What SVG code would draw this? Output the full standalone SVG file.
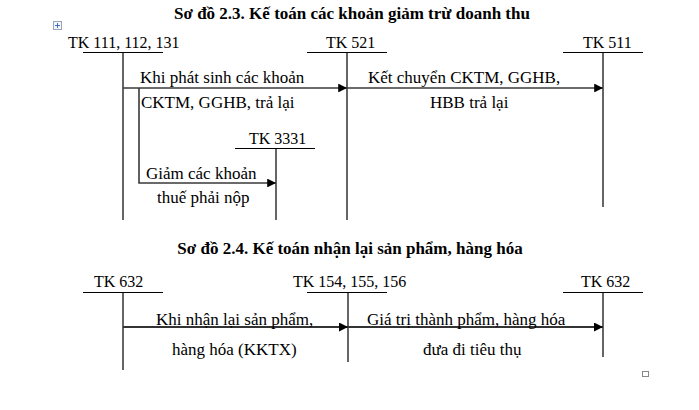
<svg xmlns="http://www.w3.org/2000/svg" width="699" height="410" viewBox="0 0 699 410">
<defs>
<style>
text{font-family:"Liberation Serif","Times New Roman",serif;fill:#000}
.title{font-size:17px;font-weight:bold}
.tk{font-size:16px}
.lb{font-size:17px}
.acc{stroke:#000;stroke-width:1.2;fill:none}
.arr{stroke:#3a3a3a;stroke-width:1.6;fill:none;marker-end:url(#ah)}
.arr2{stroke:#333;stroke-width:2;fill:none;marker-end:url(#ah2)}
</style>
<marker id="ah" viewBox="0 0 10 10" refX="10" refY="5" markerWidth="5.5" markerHeight="5.5" markerUnits="strokeWidth" orient="auto">
<path d="M0,0 L10,5 L0,10 z" fill="#000"/>
</marker>
<marker id="ah2" viewBox="0 0 10 10" refX="10" refY="5" markerWidth="4.5" markerHeight="4.5" markerUnits="strokeWidth" orient="auto">
<path d="M0,0 L10,5 L0,10 z" fill="#000"/>
</marker>
</defs>
<rect width="699" height="410" fill="#fff"/>
<g id="handle">
<rect x="53.5" y="21.5" width="8" height="8" fill="#f4f6fb" stroke="#9aa4b8" stroke-width="1"/>
<path d="M57.5,23 V28 M55,25.5 H60" stroke="#3060c0" stroke-width="0.9"/>
</g>
<text id="title1" class="title" x="352" y="19" text-anchor="middle">Sơ đồ 2.3. Kế toán các khoản giảm trừ doanh thu</text>
<g id="tk111">
<text class="tk" x="68" y="48">TK 111, 112, 131</text>
<path class="acc" d="M83,52.5 H163 M123,52.5 V220"/>
</g>
<g id="tk521">
<text class="tk" x="326" y="48">TK  521</text>
<path class="acc" d="M307,52.5 H387 M347,52.5 V220"/>
</g>
<g id="tk511">
<text class="tk" x="583" y="48">TK 511</text>
<path class="acc" d="M563,52.5 H643 M603,52.5 V207"/>
</g>
<g id="tk3331">
<text class="tk" x="249" y="144">TK 3331</text>
<path class="acc" d="M235,148.5 H315 M276,148.5 V220"/>
</g>
<g id="connectors1">
<path class="arr" d="M123,88 H347"/>
<path class="arr" d="M347,88 H603"/>
<path class="arr" d="M139,88 V183 H276"/>
<text class="lb" x="140" y="83">Khi phát sinh các khoản</text>
<text class="lb" x="141" y="108">CKTM, GGHB, trả lại</text>
<text class="lb" x="146" y="179">Giảm các khoản</text>
<text class="lb" x="157" y="203">thuế phải nộp</text>
<text class="lb" x="368" y="83">Kết chuyển CKTM, GGHB,</text>
<text class="lb" x="430" y="108">HBB trả lại</text>
</g>
<text id="title2" class="title" x="350" y="254" text-anchor="middle">Sơ đồ 2.4. Kế toán nhận lại sản phẩm, hàng hóa</text>
<g id="tk632a">
<text class="tk" x="94" y="287">TK 632</text>
<path class="acc" d="M83,292.5 H163 M123,292.5 V370"/>
</g>
<g id="tk154">
<text class="tk" x="293" y="287">TK 154, 155, 156</text>
<path class="acc" d="M307,292.5 H387 M348,292.5 V362"/>
</g>
<g id="tk632b">
<text class="tk" x="581" y="287">TK 632</text>
<path class="acc" d="M563,292.5 H643 M603,292.5 V357"/>
</g>
<g id="connectors2">
<path class="arr2" d="M123,327 H348"/>
<path class="arr2" d="M348,327 H603"/>
<text class="lb" x="156" y="325">Khi nhận lại sản phẩm,</text>
<text class="lb" x="172" y="355">hàng hóa (KKTX)</text>
<text class="lb" x="367" y="325">Giá trị thành phẩm, hàng hóa</text>
<text class="lb" x="423" y="355">đưa đi tiêu thụ</text>
</g>
<rect id="endmark" x="642.5" y="371.5" width="6" height="5" fill="none" stroke="#888" stroke-width="1"/>
</svg>
